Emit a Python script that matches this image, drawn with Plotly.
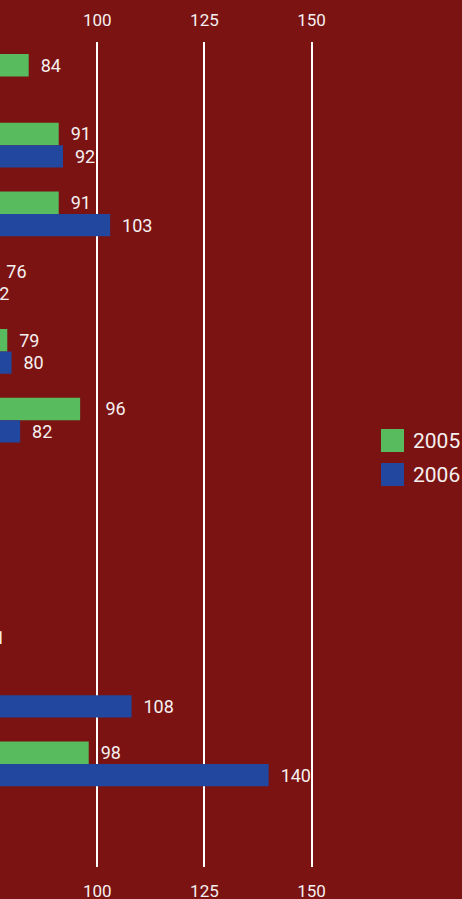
import plotly.graph_objects as go

# ---- data -------------------------------------------------------------
categories = ["Group A", "Group B", "Group C", "Group D", "Group E", "Group F",
              "Group G", "Group H", "Group I", "Group J", "Group K", "Group L"]
values_2005 = [84, 91, 91, 76, 79, 96, 58, 55, 66, 63, 98, 52]
values_2006 = [64, 92, 103, 72, 80, 82, 61, 60, 71, 108, 140, 57]
series_names = ["2005", "2006"]
tick_values = [100, 125, 150]

# ---- style ------------------------------------------------------------
BG = "#7B1313"
GREEN = "#58BB5E"
BLUE = "#21489E"
TEXT = "#F5F0F0"
FONT = "Roboto"
LABEL_SIZE = 18

W, H = 462, 899
M_L, M_R, M_T, M_B = 0, 102, 42, 32
X_RANGE = [77.3, 161.3]
Y_RANGE = [len(categories) - 0.5, -0.5]   # first category at the top

plot_w = W - M_L - M_R
plot_h = H - M_T - M_B
px_per_unit = plot_w / (X_RANGE[1] - X_RANGE[0])
NBSP_W = 0.25 * LABEL_SIZE      # approx. width of one no-break space
DIGIT_W = 0.56 * LABEL_SIZE     # approx. width of one digit


def label_template(v):
    """Value label placed a little right of the bar; nudged past a gridline
    if it would otherwise sit on top of one."""
    end = (v - X_RANGE[0]) * px_per_unit
    start = end + 3 + 2 * NBSP_W
    width = len(str(v)) * DIGIT_W
    for t in tick_values:
        g = (t - X_RANGE[0]) * px_per_unit
        if start < g + 1 < start + width:
            start = g + 7
    n = max(2, round((start - end - 3) / NBSP_W))
    return "\u00a0" * n + "%{x}"


fig = go.Figure()
for name, vals, color in zip(series_names, [values_2005, values_2006], [GREEN, BLUE]):
    fig.add_trace(go.Bar(
        name=name,
        y=categories,
        x=vals,
        orientation="h",
        marker=dict(color=color, line=dict(width=0)),
        texttemplate=[label_template(v) for v in vals],
        textposition="outside",
        textfont=dict(family=FONT, size=LABEL_SIZE, color=TEXT),
        constraintext="none",
        cliponaxis=True,
        showlegend=False,
        hoverinfo="skip",
    ))

# invisible trace so the mirrored top axis gets drawn
fig.add_trace(go.Scatter(
    x=tick_values, y=[categories[0]] * len(tick_values),
    xaxis="x2", mode="markers", marker=dict(opacity=0),
    showlegend=False, hoverinfo="skip",
))

axis_font = dict(family=FONT, size=17, color=TEXT)
fig.update_layout(
    width=W, height=H,
    margin=dict(l=M_L, r=M_R, t=M_T, b=M_B, pad=0, autoexpand=False),
    paper_bgcolor=BG, plot_bgcolor=BG,
    barmode="group", bargap=0.346, bargroupgap=0,
    xaxis=dict(
        range=X_RANGE, tickvals=tick_values, showgrid=True,
        gridcolor="#FFFFFF", gridwidth=2, zeroline=False, showline=False,
        ticks="", tickfont=axis_font, side="bottom", ticklabelstandoff=12,
        automargin=False,
    ),
    xaxis2=dict(
        range=X_RANGE, tickvals=tick_values, overlaying="x",
        side="top", showgrid=False, zeroline=False, showline=False,
        ticks="", tickfont=axis_font, ticklabelstandoff=12, automargin=False,
    ),
    yaxis=dict(
        range=Y_RANGE, showticklabels=False, showgrid=False,
        zeroline=False, showline=False, ticks="", automargin=False,
    ),
)


# legend drawn as swatches with labels to the right of the plot area
def px_x(px):
    return (px - M_L) / plot_w


def px_y(py):
    return 1 - (py - M_T) / plot_h


for i, (name, color) in enumerate(zip(series_names, [GREEN, BLUE])):
    top = 429 + i * 34
    fig.add_shape(type="rect", xref="paper", yref="paper",
                  x0=px_x(381), x1=px_x(404), y0=px_y(top), y1=px_y(top + 23),
                  fillcolor=color, line=dict(width=0), layer="above")
    fig.add_annotation(xref="paper", yref="paper", x=px_x(411), y=px_y(top + 11.5),
                       text=name, showarrow=False, xanchor="left", yanchor="middle",
                       font=dict(family=FONT, size=21, color=TEXT))

fig.write_html("out.html")
